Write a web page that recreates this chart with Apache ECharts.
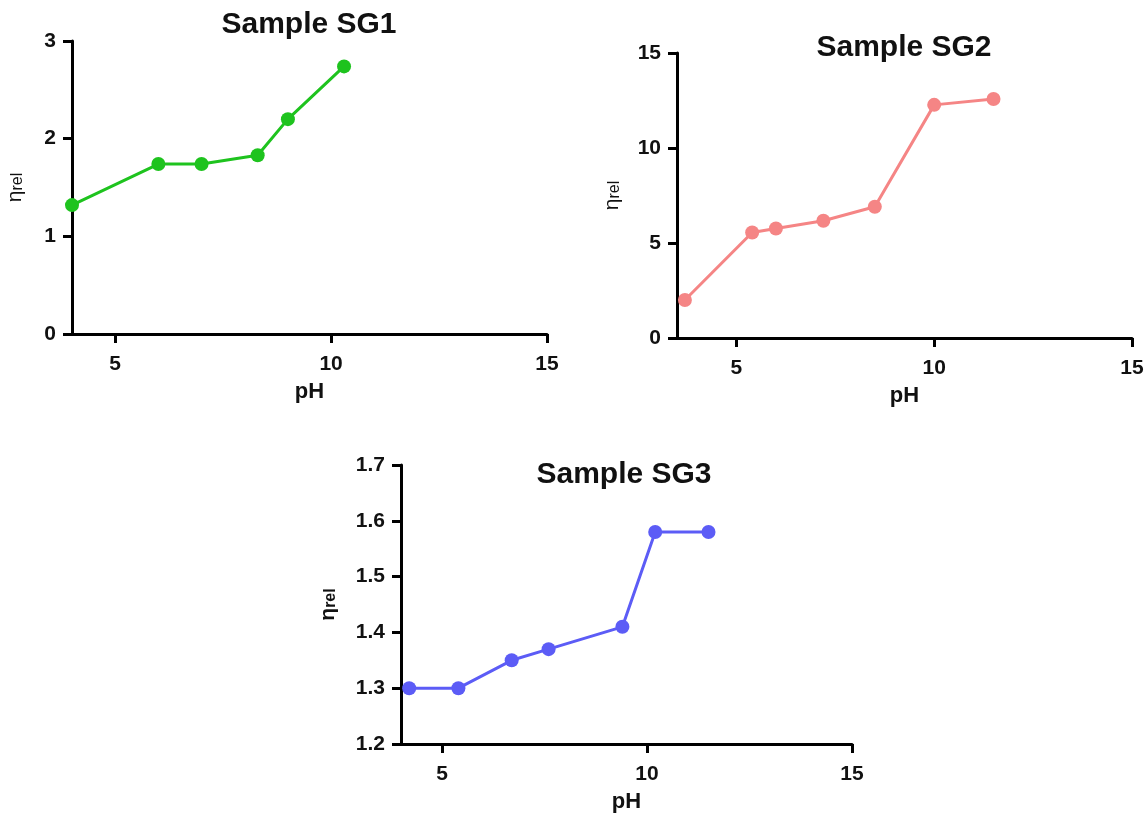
<!DOCTYPE html>
<html>
<head>
<meta charset="utf-8">
<script src="https://cdn.jsdelivr.net/npm/echarts@6/dist/echarts.min.js"></script>
<style>
  html, body { margin: 0; padding: 0; background: #fff; }
  #chart { width: 1148px; height: 814px; }
</style>
</head>
<body>
<div id="chart"></div>
<script>
// pH values and relative viscosity for each sample
const sg1PH = [4.0, 6.0, 7.0, 8.3, 9.0, 10.3];
const sg1Eta = [1.32, 1.74, 1.74, 1.83, 2.2, 2.74];

const sg2PH = [3.7, 5.4, 6.0, 7.2, 8.5, 10.0, 11.5];
const sg2Eta = [2.0, 5.55, 5.76, 6.17, 6.91, 12.27, 12.58];

const sg3PH = [4.2, 5.4, 6.7, 7.6, 9.4, 10.2, 11.5];
const sg3Eta = [1.3, 1.3, 1.35, 1.37, 1.41, 1.58, 1.58];

const xTicks = [5, 10, 15];
const sg1YTicks = [0, 1, 2, 3];
const sg2YTicks = [0, 5, 10, 15];
const sg3YTicks = [1.2, 1.3, 1.4, 1.5, 1.6, 1.7];

const titles = ['Sample SG1', 'Sample SG2', 'Sample SG3'];
const colors = ['#1ec31e', '#f58585', '#5c5cf6'];

const FONT = 'Liberation Sans, Arial, sans-serif';

function pairs(xs, ys) {
  return xs.map((x, i) => [x, ys[i]]);
}

const axisLineStyle = { show: true, lineStyle: { color: '#000', width: 3 } };
const tickStyle = { show: true, length: 9, lineStyle: { color: '#000', width: 3 } };
const labelStyle = { color: '#111', fontWeight: 'bold', fontSize: 21, fontFamily: FONT };

function xAxis(gridIndex, min) {
  return {
    type: 'value', gridIndex: gridIndex, min: min, max: 15,
    name: 'pH', nameLocation: 'middle', nameGap: 47,
    nameTextStyle: { color: '#111', fontWeight: 'bold', fontSize: 22, fontFamily: FONT },
    axisLine: axisLineStyle,
    axisTick: Object.assign({ customValues: xTicks }, tickStyle),
    axisLabel: Object.assign({ customValues: xTicks, margin: 20 }, labelStyle),
    splitLine: { show: false }
  };
}

function yAxis(gridIndex, ticks, nameGap, bold, digits) {
  const w = bold ? 'bold' : 'normal';
  return {
    type: 'value', gridIndex: gridIndex,
    min: ticks[0], max: ticks[ticks.length - 1],
    name: '{e|η}{s|rel}', nameLocation: 'middle', nameGap: nameGap, nameRotate: 90,
    nameTextStyle: {
      rich: {
        e: { fontSize: 21, color: '#111', fontFamily: FONT, fontWeight: w, verticalAlign: 'bottom' },
        s: { fontSize: 16, color: '#111', fontFamily: FONT, fontWeight: w, verticalAlign: 'bottom', padding: [6, 0, 0, 0] }
      }
    },
    axisLine: axisLineStyle,
    axisTick: Object.assign({ customValues: ticks }, tickStyle),
    axisLabel: Object.assign({
      customValues: ticks, margin: 16,
      formatter: v => v.toFixed(digits)
    }, labelStyle),
    splitLine: { show: false }
  };
}

function series(idx, data) {
  return {
    type: 'line', xAxisIndex: idx, yAxisIndex: idx,
    data: data,
    symbol: 'circle', symbolSize: 14,
    lineStyle: { color: colors[idx], width: 3 },
    itemStyle: { color: colors[idx] },
    silent: true
  };
}

const chart = echarts.init(document.getElementById('chart'));
chart.setOption({
  backgroundColor: '#ffffff',
  animation: false,
  title: [
    { text: titles[0], left: 309, top: 10, textAlign: 'center', padding: 0 },
    { text: titles[1], left: 904, top: 33, textAlign: 'center', padding: 0 },
    { text: titles[2], left: 624, top: 460, textAlign: 'center', padding: 0 }
  ].map(t => Object.assign(t, {
    textStyle: { color: '#111', fontWeight: 'bold', fontSize: 30, fontFamily: FONT }
  })),
  grid: [
    { left: 72, top: 41, width: 475, height: 293 },
    { left: 677, top: 53, width: 455, height: 285 },
    { left: 401, top: 465, width: 451, height: 280 }
  ],
  xAxis: [xAxis(0, 4), xAxis(1, 3.5), xAxis(2, 4)],
  yAxis: [
    yAxis(0, sg1YTicks, 46, false, 0),
    yAxis(1, sg2YTicks, 54, false, 0),
    yAxis(2, sg3YTicks, 62, true, 1)
  ],
  series: [
    series(0, pairs(sg1PH, sg1Eta)),
    series(1, pairs(sg2PH, sg2Eta)),
    series(2, pairs(sg3PH, sg3Eta))
  ]
});
</script>
</body>
</html>
